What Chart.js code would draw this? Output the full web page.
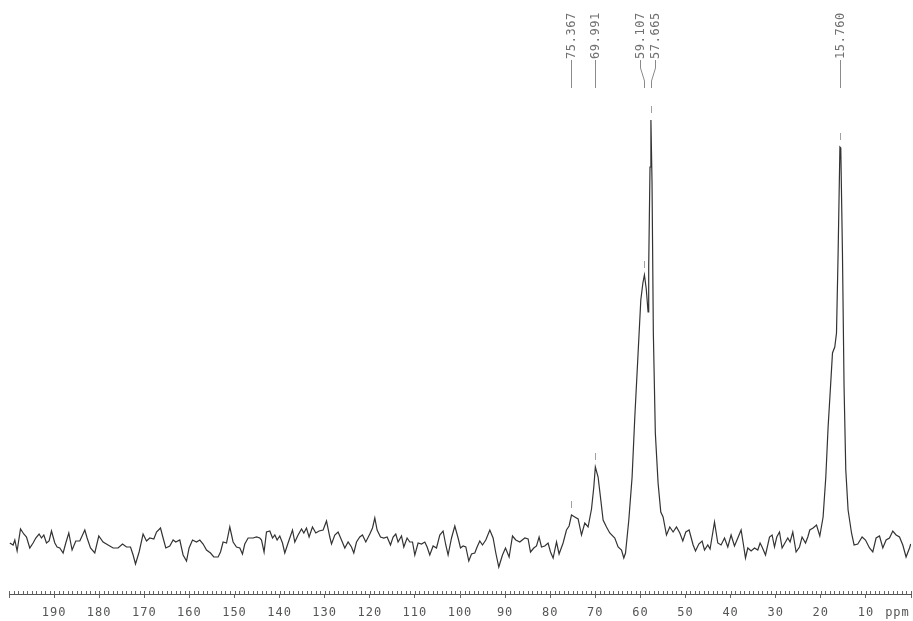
<!DOCTYPE html>
<html>
<head>
<meta charset="utf-8">
<script src="https://cdn.jsdelivr.net/npm/chart.js@4/dist/chart.umd.min.js"></script>
<style>
html,body{margin:0;padding:0;background:#fff;}
#wrap{width:913px;height:621px;position:relative;}
</style>
</head>
<body>
<div id="wrap"><canvas id="c"></canvas></div>
<script>
// Chemical shift (ppm) of each sampled point of the spectrum trace
const shiftPpm = [
199.82,199.09,198.71,198.20,197.45,196.72,196.12,195.39,194.66,194.06,
193.33,192.79,192.28,191.69,191.11,190.58,189.84,189.33,188.74,188.00,
187.41,186.74,186.01,185.19,184.30,183.19,182.68,181.93,180.98,180.09,
179.14,178.03,176.92,175.81,174.83,173.95,173.06,172.48,171.95,171.15,
170.27,169.51,168.78,167.89,167.29,166.41,165.83,165.23,164.35,163.61,
163.02,162.13,161.40,160.64,160.07,159.31,158.43,157.69,156.96,156.21,
155.32,154.59,153.64,153.10,152.53,151.77,151.04,150.31,149.56,148.82,
148.23,147.72,146.98,145.88,145.12,144.39,144.01,143.44,142.91,142.17,
141.57,141.06,140.55,139.96,139.36,138.85,138.12,137.14,136.63,135.90,
135.14,134.63,134.04,133.46,132.71,131.97,131.24,130.35,129.60,128.87,
128.49,127.76,127.03,126.28,125.54,124.81,124.06,123.55,122.95,122.22,
121.62,120.89,120.00,119.40,118.89,118.38,117.63,116.90,116.16,115.41,
114.83,114.24,113.73,112.97,112.46,111.73,111.13,110.53,110.02,109.29,
108.54,107.80,107.29,106.70,105.96,105.21,104.48,103.75,103.15,102.64,
101.88,101.15,100.42,99.89,99.31,98.71,98.05,97.45,96.72,96.21,
95.61,95.01,94.28,93.39,92.66,92.06,91.40,90.58,89.91,89.11,
88.36,87.63,86.74,85.63,84.90,84.37,83.64,83.04,82.46,81.93,
81.20,80.47,79.93,79.35,78.60,78.03,77.14,76.39,75.81,75.28,
74.55,73.81,73.06,72.33,71.60,70.84,70.33,69.99,69.38,68.78,
68.27,67.52,66.79,65.68,64.94,64.19,63.68,63.30,62.57,61.84,
61.24,60.51,59.91,59.45,59.11,58.70,58.30,58.16,57.87,57.67,
57.42,57.13,56.69,56.08,55.48,54.97,54.22,53.48,52.75,52.00,
51.26,50.60,49.93,49.20,48.31,47.78,47.05,46.32,45.79,45.06,
44.55,43.57,42.84,42.11,41.35,40.62,39.89,39.14,38.40,37.67,
37.14,36.70,36.19,35.45,34.70,33.97,33.46,33.02,32.26,31.37,
30.80,30.27,29.76,29.16,28.58,27.83,27.32,26.81,26.21,25.48,
24.72,24.15,23.39,22.88,22.44,21.71,20.95,20.22,19.49,18.89,
18.38,17.85,17.41,16.90,16.52,16.16,15.76,15.57,15.20,14.84,
14.46,13.95,13.19,12.62,11.80,10.84,10.09,9.20,8.47,7.74,
6.98,6.25,5.52,4.77,4.04,3.30,2.55,1.82,1.09,0.33,0.05
];
// Intensity (arbitrary units) at each sampled point
const intensity = [
2,0,5,-6,16,11,8,-3,2,7,
11,7,10,2,4,14,2,-2,-3,-8,
2,12,-5,4,4,15,7,-3,-8,9,
3,0,-3,-3,1,-2,-2,-10,-19,-7,
11,4,7,6,13,17,7,-3,-1,5,
3,5,-10,-16,-3,5,3,5,1,-5,
-8,-12,-12,-7,3,2,18,3,-2,-3,
-9,1,7,7,8,7,5,-7,13,14,
7,10,5,9,2,-8,2,15,3,10,
16,12,17,8,18,12,14,15,24,8,
1,10,13,5,-3,3,-2,-8,3,8,
10,3,11,17,27,15,8,7,8,0,
8,11,3,9,-2,7,3,3,-10,2,
1,3,-2,-10,-1,-3,10,14,0,-10,
7,19,7,-3,-1,-2,-16,-9,-8,-2,
4,0,5,15,7,-8,-22,-10,-3,-12,
9,5,3,7,6,-7,-3,-1,8,-2,
-1,2,-7,-13,3,-9,2,15,19,30,
28,26,10,22,18,36,58,78,68,45,
25,18,12,7,-2,-5,-13,-8,25,68,
128,192,245,262,270,256,233,278,378,425,
362,212,112,62,33,28,10,18,13,18,
12,4,13,15,0,-6,1,4,-5,0,
-4,23,2,0,7,-2,10,-1,7,15,
0,-13,-3,-6,-3,-5,2,-2,-10,8,
10,-2,8,13,-3,3,7,3,13,-7,
-2,8,2,8,15,17,20,9,28,68,
118,158,192,198,212,292,398,397,292,158,
75,35,12,0,1,8,5,-3,-7,7,
9,-3,5,7,14,10,8,0,-12,-3,1
];
// Picked peaks
const peakPpm = [75.367, 69.991, 59.107, 57.665, 15.760];
const peakLabels = ['75.367', '69.991', '59.107', '57.665', '15.760'];
const peakHeight = [30, 78, 270, 425, 398];
// Axis
const axisMin = 0, axisMax = 200, majorStep = 10, minorStep = 1;
const axisUnit = 'ppm';

const MONO = '"DejaVu Sans Mono", "Liberation Mono", monospace';

function spreadPositions(pos, gap) {
  const idx = pos.map((p, i) => i).sort((a, b) => pos[a] - pos[b]);
  let groups = idx.map(i => ({ members: [i], center: pos[i] }));
  let changed = true;
  while (changed) {
    changed = false;
    for (let g = 0; g < groups.length - 1; g++) {
      const a = groups[g], b = groups[g + 1];
      const aEnd = a.center + (a.members.length - 1) / 2 * gap;
      const bStart = b.center - (b.members.length - 1) / 2 * gap;
      if (bStart - aEnd < gap) {
        const members = a.members.concat(b.members);
        const center = members.reduce((s, i) => s + pos[i], 0) / members.length;
        groups.splice(g, 2, { members, center });
        changed = true;
        break;
      }
    }
  }
  const out = new Array(pos.length);
  groups.forEach(g => {
    g.members.forEach((i, k) => {
      out[i] = g.center + (k - (g.members.length - 1) / 2) * gap;
    });
  });
  return out;
}

const nmrPlugin = {
  id: 'nmr',
  beforeDraw(chart) {
    chart.ctx.letterSpacing = '1px';
  },
  afterDraw(chart) {
    const { ctx, chartArea, scales: { x, y } } = chart;
    ctx.save();
    // minor ticks above the axis line
    ctx.strokeStyle = '#666';
    ctx.lineWidth = 1;
    ctx.beginPath();
    for (let v = axisMin; v <= axisMax; v += minorStep) {
      const px = Math.round(x.getPixelForValue(v)) + 0.5;
      ctx.moveTo(px, chartArea.bottom - 3);
      ctx.lineTo(px, chartArea.bottom);
    }
    ctx.stroke();
    // unit label
    ctx.letterSpacing = '1px';
    ctx.fillStyle = '#555';
    ctx.font = '12px ' + MONO;
    ctx.textAlign = 'center';
    ctx.textBaseline = 'middle';
    ctx.fillText(axisUnit, x.getPixelForValue(3), chartArea.bottom + 19);

    // peak markers
    const pxs = peakPpm.map(p => x.getPixelForValue(p));
    ctx.strokeStyle = '#a0a0a0';
    ctx.beginPath();
    pxs.forEach((px, i) => {
      const py = y.getPixelForValue(peakHeight[i]);
      const xx = Math.round(px) + 0.5;
      ctx.moveTo(xx, py - 14);
      ctx.lineTo(xx, py - 7);
    });
    ctx.stroke();

    // label leader lines
    const lxs = spreadPositions(pxs, 15);
    ctx.strokeStyle = '#8a8a8a';
    ctx.beginPath();
    pxs.forEach((px, i) => {
      const lx = lxs[i];
      const a = Math.round(lx) + 0.5, b = Math.round(px) + 0.5;
      if (Math.abs(lx - px) < 1) {
        ctx.moveTo(a, 60);
        ctx.lineTo(a, 88);
      } else {
        ctx.moveTo(a, 60);
        ctx.lineTo(a, 68);
        ctx.lineTo(b, 81);
        ctx.lineTo(b, 88);
      }
    });
    ctx.stroke();

    // labels
    ctx.fillStyle = '#707070';
    ctx.font = '12px ' + MONO;
    ctx.letterSpacing = '0.6px';
    ctx.textAlign = 'left';
    ctx.textBaseline = 'middle';
    lxs.forEach((lx, i) => {
      ctx.save();
      ctx.translate(Math.round(lx) + 0.5, 59);
      ctx.rotate(-Math.PI / 2);
      ctx.fillText(peakLabels[i], 0, 0);
      ctx.restore();
    });
    ctx.restore();
  }
};

const points = shiftPpm.map((p, i) => ({ x: p, y: intensity[i] }));

new Chart(document.getElementById('c'), {
  type: 'line',
  data: {
    datasets: [{
      data: points,
      borderColor: '#333',
      borderWidth: 1.2,
      pointRadius: 0,
      tension: 0,
      fill: false
    }]
  },
  options: {
    responsive: true,
    maintainAspectRatio: false,
    devicePixelRatio: 1,
    animation: false,
    parsing: true,
    layout: { padding: { left: 9, right: 2, top: 0, bottom: 0 } },
    plugins: { legend: { display: false }, tooltip: { enabled: false }, title: { display: false } },
    scales: {
      x: {
        type: 'linear',
        reverse: true,
        min: axisMin,
        max: axisMax,
        afterFit(scale) {
          scale.height = 27;
          scale.paddingLeft = 0;
          scale.paddingRight = 0;
        },
        border: { display: true, color: '#555', width: 1 },
        grid: { display: true, drawOnChartArea: false, drawTicks: true, tickLength: 4, color: '#666' },
        ticks: {
          stepSize: majorStep,
          autoSkip: false,
          maxRotation: 0,
          padding: 8,
          color: '#555',
          font: { family: MONO, size: 12 },
          callback(v) { return (v === axisMin || v === axisMax) ? '' : String(v); }
        }
      },
      y: {
        display: false,
        min: -49,
        max: 545
      }
    }
  },
  plugins: [nmrPlugin]
});
</script>
</body>
</html>
